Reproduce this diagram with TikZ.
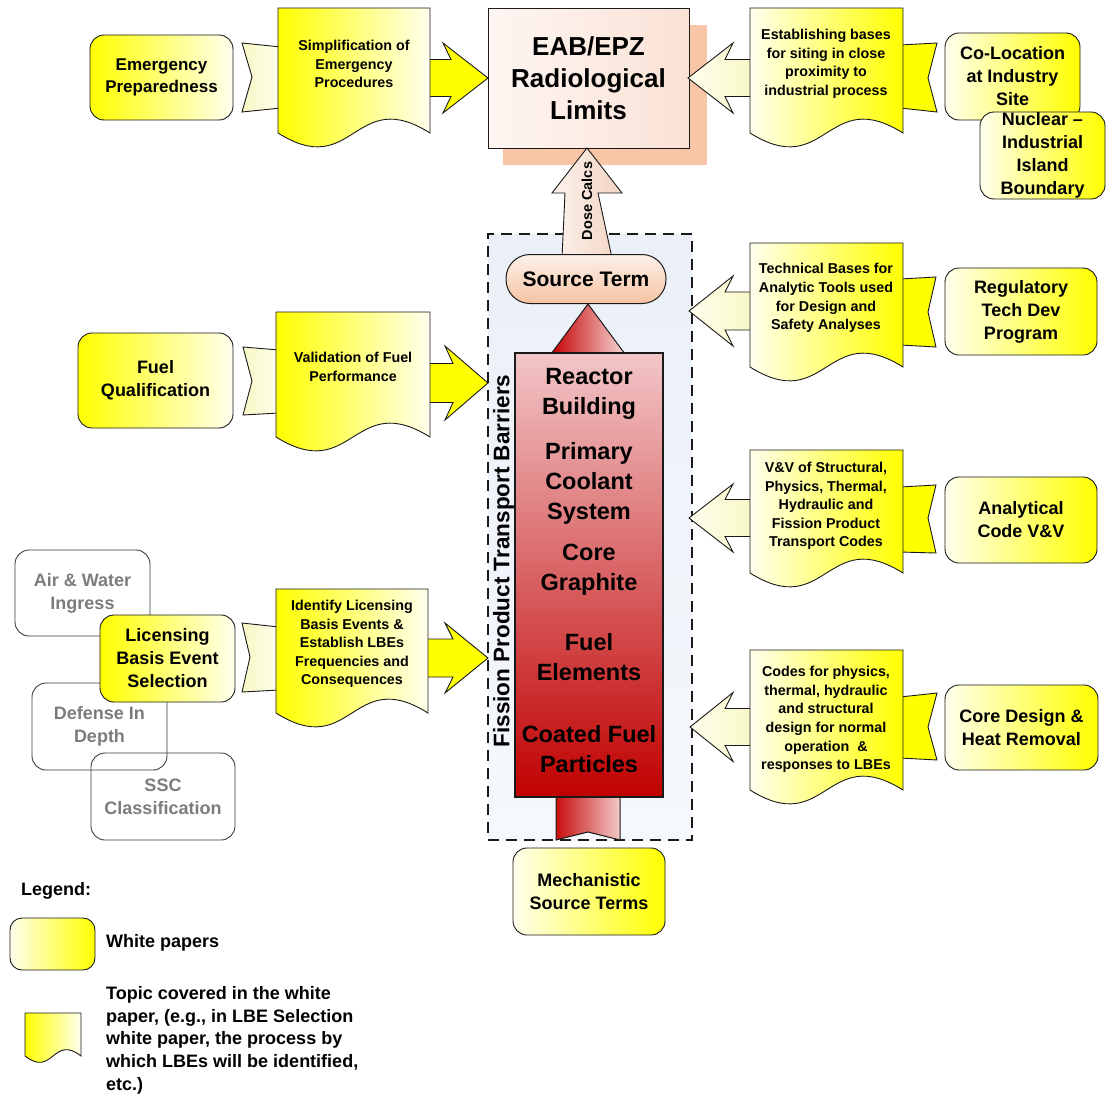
\documentclass[tikz,border=0pt]{standalone}
\usepackage{fontspec}
\setmainfont{Liberation Sans}
\definecolor{yel}{HTML}{FFFF00}
\definecolor{pale}{HTML}{FFFFEE}
\definecolor{tailpale}{HTML}{F7F7C4}
\definecolor{peach}{HTML}{F8C6A6}
\definecolor{grayt}{HTML}{7C7C7C}
\definecolor{outl}{HTML}{1A1A1A}
\definecolor{redtop}{HTML}{F2C6C8}
\definecolor{redmid}{HTML}{E09A9C}
\definecolor{redbot}{HTML}{C00000}
\definecolor{bluem}{HTML}{A9C0E2}
\definecolor{bluet}{HTML}{EBF0F8}
\definecolor{blueb}{HTML}{F5F8FC}
\definecolor{eabl}{HTML}{FEF6F2}
\definecolor{eabr}{HTML}{FAE2D6}
\definecolor{sttop}{HTML}{FDF1EA}
\definecolor{stbot}{HTML}{F5C3A2}
\definecolor{dosel}{HTML}{FDF3EE}
\definecolor{doser}{HTML}{F2D3C2}
\definecolor{arrred}{HTML}{C40000}
\definecolor{arrpink}{HTML}{F6D8D8}
\newcommand\fWP{\fontsize{18}{23}\selectfont\bfseries}
\newcommand\fWPs{\fontsize{17}{22.5}\selectfont\bfseries}
\newcommand\fDoc{\fontsize{14.3}{18.6}\selectfont\bfseries}
\newcommand\fBig{\fontsize{26}{32}\selectfont\bfseries}
\newcommand\fRed{\fontsize{23.5}{30}\selectfont\bfseries}
\newcommand\fST{\fontsize{21}{24}\selectfont\bfseries}
\newcommand\fFPB{\fontsize{22.5}{26}\selectfont\bfseries}
\newcommand\fDose{\fontsize{14.5}{17}\selectfont\bfseries}
\newcommand\docpath[6]{\path[#1] (#2,#3) -- (#4,#3) -- (#4,#5) .. controls ({(#2+#4)/2},{#5-#6}) and ({(#2+#4)/2},{#5+#6}) .. (#2,#5) -- cycle;}
\newcommand\arrR[7]{\path[#1] (#2,{#5-#6}) -- ({#3+8},{#5-#6}) -- (#3,{#5-#7}) -- (#4,#5) -- (#3,{#5+#7}) -- ({#3+8},{#5+#6}) -- (#2,{#5+#6}) -- cycle;}
\newcommand\arrL[7]{\path[#1] (#2,{#5-#6}) -- ({#3-8},{#5-#6}) -- (#3,{#5-#7}) -- (#4,#5) -- (#3,{#5+#7}) -- ({#3-8},{#5+#6}) -- (#2,{#5+#6}) -- cycle;}
\tikzset{
  ol/.style={draw=outl, line width=0.9pt},
  wp/.style={ol, rounded corners=14pt, align=center, inner sep=0pt, font=\fWP},
  wpL/.style={wp, left color=yel, right color=pale},
  wpR/.style={wp, left color=pale, right color=yel},
  grayb/.style={draw=outl!85, line width=0.9pt, rounded corners=14pt, align=center, inner sep=0pt, font=\fWP, text=grayt},
  docL/.style={ol, left color=yel, right color=pale},
  docR/.style={ol, left color=pale, right color=yel},
  dtext/.style={align=center, font=\fDoc, inner sep=0pt},
  arrY/.style={ol, fill=yel},
  arrP/.style={ol, left color=pale, right color=tailpale},
  tailP/.style={ol, left color=tailpale, right color=pale},
  tailY/.style={ol, fill=yel},
  redt/.style={align=center, font=\fRed, inner sep=0pt},
}
\begin{document}
\begin{tikzpicture}[x=1pt,y=-1pt]
\useasboundingbox (0,0) rectangle (1106,1095);

% ---------- EAB/EPZ box ----------
\fill[peach] (503,25) rectangle (707,165);
\node[ol, left color=eabl, right color=eabr, minimum width=201pt, minimum height=140pt, align=center, font=\fBig, inner sep=0pt] (eab) at (588.5,78) {EAB/EPZ\\Radiological\\Limits};

% ---------- Fission product transport barriers ----------
\shade[top color=bluet, middle color=bluem, bottom color=blueb] (488,234) rectangle (692,840);
\node[draw=outl, dashed, dash pattern=on 11pt off 7pt, line width=2pt, minimum width=204pt, minimum height=606pt, inner sep=0pt] (fpb) at (590,537) {};

% Dose Calcs arrow
\path[ol, left color=dosel, right color=doser] (562,258) -- (565,193) -- (552,193) -- (587,148) -- (622,193) -- (598,193) -- (612,258) -- cycle;
\node[rotate=90, font=\fDose, inner sep=0pt] (dose) at (587,201) {Dose Calcs};

% red upward arrow
\path[draw=outl, line width=1pt, left color=arrred, right color=arrpink] (556,840) -- (556,354) -- (551,354) -- (588,304) -- (625,354) -- (620,354) -- (620,840) -- (588,832) -- cycle;

% red barrier box
\node[draw=outl, line width=1.6pt, top color=redtop, middle color=redmid, bottom color=redbot, minimum width=148pt, minimum height=444pt, inner sep=0pt] (rb) at (589,575) {};
\node[redt] (rbld) at (589,394) {Reactor\\Building};
\node[redt] (pcs) at (589,483) {Primary\\Coolant\\System};
\node[redt] (cg) at (589,570) {Core\\Graphite};
\node[redt] (fe) at (589,657) {Fuel\\Elements};
\node[redt] (cfp) at (589,749) {Coated Fuel\\Particles};

% Source term
\node[draw=outl, line width=1pt, rounded corners=24pt, top color=sttop, bottom color=stbot, minimum width=160pt, minimum height=49pt, inner sep=0pt, font=\fST] (st) at (586,279) {Source Term};

\node[rotate=90, font=\fFPB, inner sep=0pt] (fpbt) at (503.5,561) {Fission Product Transport Barriers};

% Mechanistic source terms
\node[wpR, minimum width=152pt, minimum height=87pt] (mst) at (589,891.5) {Mechanistic\\Source Terms};

% ---------- Group A: Emergency Preparedness ----------
\arrR{arrY}{425}{443}{488}{78}{18.5}{35}
\path[tailP] (242,43) -- (281,47) -- (281,108) -- (242,112) -- (252,77) -- cycle;
\docpath{docL}{278}{8}{430}{133}{48}
\node[dtext] (simp) at (354,64) {Simplification of\\Emergency\\Procedures};
\node[wpL, font=\fWPs, minimum width=143pt, minimum height=85pt] (ep) at (161.5,77.5) {Emergency\\Preparedness};

% ---------- Group B: Fuel Qualification ----------
\arrR{arrY}{425}{445}{488}{383}{19.5}{37}
\path[tailP] (243,347) -- (279,350) -- (279,413) -- (243,415) -- (252,381) -- cycle;
\docpath{docL}{276}{312}{430}{437}{48}
\node[dtext] (vfp) at (353,367) {Validation of Fuel\\Performance};
\node[wpL, minimum width=155pt, minimum height=95pt] (fq) at (155.5,380.5) {Fuel\\Qualification};

% ---------- Group C: LBE Selection ----------
\node[grayb, minimum width=135pt, minimum height=86pt] (awi) at (82.5,593) {Air \& Water\\Ingress};
\node[grayb, minimum width=135pt, minimum height=87pt] (did) at (99.5,726.5) {Defense In\\Depth};
\node[grayb, minimum width=144pt, minimum height=87pt] (ssc) at (163,796.5) {SSC\\Classification};
\arrR{arrY}{423}{445}{488}{658}{19}{35}
\path[tailP] (242,623) -- (279,627) -- (279,690) -- (242,692) -- (250,657) -- cycle;
\docpath{docL}{276}{589}{428}{713}{48}
\node[dtext] (ilbe) at (352,644) {Identify Licensing\\Basis Events \&\\Establish LBEs\\Frequencies and\\Consequences};
\node[wpL, minimum width=135pt, minimum height=87pt] (lbe) at (167.5,658.5) {Licensing\\Basis Event\\Selection};

% ---------- Group D: Co-Location ----------
\arrL{arrP}{755}{733}{688}{78}{18.5}{35}
\path[tailY] (900,45) -- (937,43) -- (928,78) -- (937,112) -- (900,108) -- cycle;
\docpath{docR}{750}{8}{903}{133}{48}
\node[dtext] (ebs) at (826,64) {Establishing bases\\for siting in close\\proximity to\\industrial process};
\node[wpR, minimum width=135pt, minimum height=87pt] (col) at (1012.5,76.5) {Co-Location\\at Industry\\Site};
\node[wpR, minimum width=125pt, minimum height=87pt] (niib) at (1042.5,155.5) {Nuclear --\\Industrial\\Island\\Boundary};

% ---------- Group E: Regulatory Tech Dev ----------
\arrL{arrP}{755}{733}{689}{311}{19}{35}
\path[tailY] (900,279) -- (936,277) -- (928,312) -- (936,347) -- (900,345) -- cycle;
\docpath{docR}{750}{243}{903}{367}{48}
\node[dtext] (tbat) at (826,298) {Technical Bases for\\Analytic Tools used\\for Design and\\Safety Analyses};
\node[wpR, minimum width=152pt, minimum height=87pt] (rtd) at (1021,311.5) {Regulatory\\Tech Dev\\Program};

% ---------- Group F: Analytical Code V&V ----------
\arrL{arrP}{755}{733}{689}{518}{18.5}{34}
\path[tailY] (900,487) -- (936,485) -- (928,518) -- (936,553) -- (900,552) -- cycle;
\docpath{docR}{750}{450}{903}{573}{48}
\node[dtext] (vv) at (826,506) {V\&V of Structural,\\Physics, Thermal,\\Hydraulic and\\Fission Product\\Transport Codes};
\node[wpR, minimum width=152pt, minimum height=86pt] (acv) at (1021,520) {Analytical\\Code V\&V};

% ---------- Group G: Core Design ----------
\arrL{arrP}{755}{733}{690}{727}{18.5}{34.5}
\path[tailY] (900,697) -- (937,693) -- (928,727) -- (937,760) -- (900,758) -- cycle;
\docpath{docR}{750}{650}{903}{790}{48}
\node[dtext] (cphy) at (826,719.5) {Codes for physics,\\thermal, hydraulic\\and structural\\design for normal\\operation\ \ \&\\responses to LBEs};
\node[wpR, minimum width=153pt, minimum height=85pt] (cdhr) at (1021.5,727.5) {Core Design \&\\Heat Removal};

% ---------- Legend ----------
\node[anchor=west, font=\fWP, inner sep=0pt] (leg) at (21,891) {Legend:};
\node[wpR, rounded corners=12pt, minimum width=85pt, minimum height=52pt] (legwp) at (52.5,944) {};
\node[anchor=west, font=\fWP, inner sep=0pt] (legwpt) at (106,943) {White papers};
\docpath{docL}{25}{1013}{81}{1056}{22}
\node[anchor=north west, align=left, font=\fontsize{18}{22.75}\selectfont\bfseries, inner sep=0pt] (legdt) at (106,986) {Topic covered in the white\\paper, (e.g., in LBE Selection\\white paper, the process by\\which LBEs will be identified,\\etc.)};
\end{tikzpicture}
\end{document}
